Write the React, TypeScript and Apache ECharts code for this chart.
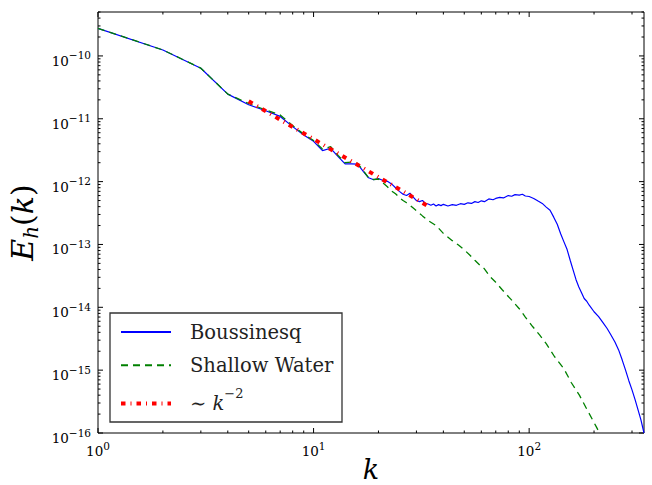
import React, { useEffect, useRef } from 'react';
import * as echarts from 'echarts';

// Axis ranges
const X_MIN = 1;
const X_MAX = 341;
const Y_MIN = 1e-16;
const Y_MAX = 5e-10;

// Boussinesq spectrum
const kBouss = [1, 2, 3, 4, 5, 6, 7, 8, 9, 10, 11, 12, 13, 14, 15, 16, 17, 18, 19, 20,
  21, 22, 23, 24, 25, 26, 27, 28, 29, 30, 31, 32, 33, 34, 35, 36, 37, 38, 39, 40,
  42, 44, 46, 48, 50, 52, 54, 56, 58, 60, 62,
  65, 68, 70, 73, 76, 80, 83, 86, 90, 93, 96, 100,
  105, 110, 115, 120, 125, 130, 135, 140, 145, 150, 155, 160, 165, 170, 175, 180, 185, 190,
  200, 210, 220, 230, 240, 250, 260, 270, 280, 290, 300, 310, 320, 330, 341];
const eBouss = [2.75e-10, 1.245e-10, 6.38e-11, 2.47e-11, 1.67e-11, 1.34e-11, 1.09e-11, 7.5e-12, 5.5e-12, 4.37e-12,
  3.11e-12, 3.39e-12, 2.5e-12, 1.91e-12, 1.92e-12, 1.9e-12, 1.46e-12, 1.15e-12, 1.07e-12, 1.12e-12,
  1.04e-12, 1.01e-12, 9.2e-13, 8.0e-13, 7.0e-13, 6.3e-13, 6.0e-13, 6.55e-13, 5.66e-13, 5.0e-13,
  4.8e-13, 5.0e-13, 4.5e-13, 4.4e-13, 4.2e-13, 4.4e-13, 4.1e-13, 4.3e-13, 4.15e-13, 4.35e-13,
  4.1e-13, 4.3e-13, 4.2e-13, 4.45e-13, 4.35e-13, 4.6e-13, 4.5e-13, 4.8e-13, 4.65e-13, 4.95e-13, 4.8e-13,
  5.3e-13, 5.15e-13, 5.4e-13, 5.6e-13, 5.5e-13, 6.0e-13, 5.85e-13, 6.2e-13, 6.1e-13, 6.3e-13, 5.9e-13, 5.8e-13,
  5.4e-13, 4.9e-13, 4.5e-13, 3.93e-13, 3.5e-13, 2.72e-13, 2.1e-13, 1.48e-13, 1.1e-13, 8.3e-14, 5.6e-14, 3.9e-14,
  2.75e-14, 2.11e-14, 1.7e-14, 1.38e-14, 1.25e-14, 1.08e-14,
  8.5e-15, 7.1e-15, 5.7e-15, 4.6e-15, 3.6e-15, 2.8e-15, 2.1e-15, 1.46e-15, 1.0e-15, 6.8e-16, 4.86e-16, 3.4e-16,
  2.34e-16, 1.62e-16, 1.0e-16];

// Shallow water spectrum
const kShallow = [1, 2, 3, 4, 5, 6, 7, 8, 9, 10, 11, 12, 13, 14, 15, 16, 17, 18, 19, 20,
  21, 22, 23, 24, 25, 26, 27, 28, 29, 30,
  32, 34, 37, 40, 44, 47, 50, 53, 56, 59, 62, 66, 70, 75, 83, 90, 96, 104, 112, 120, 131, 145, 157, 171, 189, 205, 212, 218];
const eShallow = [2.75e-10, 1.245e-10, 6.38e-11, 2.47e-11, 1.75e-11, 1.38e-11, 1.15e-11, 7.8e-12, 5.7e-12, 4.5e-12,
  3.3e-12, 3.6e-12, 2.6e-12, 2.0e-12, 2.05e-12, 1.95e-12, 1.5e-12, 1.15e-12, 1.08e-12, 1.1e-12,
  9.5e-13, 8.3e-13, 7.1e-13, 6.4e-13, 5.6e-13, 5.0e-13, 4.6e-13, 4.2e-13, 3.8e-13, 3.45e-13,
  2.85e-13, 2.4e-13, 2.0e-13, 1.5e-13, 1.15e-13, 9.8e-14, 8.2e-14, 6.8e-14, 5.6e-14, 4.7e-14, 4.1e-14, 3.05e-14,
  2.5e-14, 1.9e-14, 1.3e-14, 9.5e-15, 7.0e-15, 4.9e-15, 3.6e-15, 2.65e-15, 1.65e-15, 1.05e-15, 6.3e-16, 4.0e-16,
  2.1e-16, 1.25e-16, 1.0e-16, 8.3e-17];

// ~k^-2 reference segment
const kRef = [5, 33.5];
const eRef = [1.9e-11, 4.2e-13];

// Tick values
const xMajorTicks = [1, 10, 100];
const xMinorTicks = [2, 3, 4, 5, 6, 7, 8, 9, 20, 30, 40, 50, 60, 70, 80, 90, 200, 300];
const yDecadeExponents = [-16, -15, -14, -13, -12, -11, -10];
const minorMultipliers = [2, 3, 4, 5, 6, 7, 8, 9];

const SERIF = '"DejaVu Serif", serif';
const RED_DASH = [4.5, 5, 1, 5];

const supLabel = (v: number) => {
  const lg = Math.log10(v);
  const e = Math.round(lg);
  if (Math.abs(lg - e) > 1e-6) return '';
  const s = (e < 0 ? '\u2212' : '') + Math.abs(e);
  return `{b|10}{s|${s}}`;
};

export default function App() {
  const ref = useRef<HTMLDivElement>(null);
  useEffect(() => {
    if (!ref.current) return;
    const chart = echarts.init(ref.current, undefined, { renderer: 'svg' });

    const yMajorTicks = yDecadeExponents.map((e) => Math.pow(10, e));
    const yMinorTicks: number[] = [];
    yDecadeExponents.forEach((e) => {
      minorMultipliers.forEach((m) => {
        const v = m * Math.pow(10, e);
        if (v <= Y_MAX) yMinorTicks.push(v);
      });
    });

    const xTickData = [
      ...xMajorTicks.map((v) => [v, Y_MIN, 1]),
      ...xMinorTicks.map((v) => [v, Y_MIN, 0]),
    ];
    const yTickData = [
      ...yMajorTicks.map((v) => [X_MIN, v, 1]),
      ...yMinorTicks.map((v) => [X_MIN, v, 0]),
    ];
    const tickStyle = { stroke: '#000', lineWidth: 1 };

    const labelRich = {
      b: { fontSize: 13.5, fontFamily: SERIF, color: '#000', lineHeight: 22, verticalAlign: 'middle' },
      s: { fontSize: 10.5, fontFamily: SERIF, color: '#000', lineHeight: 8, verticalAlign: 'top' },
    };

    chart.setOption({
      animation: false,
      backgroundColor: '#fff',
      textStyle: { fontFamily: SERIF },
      grid: {
        left: 98, right: 8, top: 12, bottom: 52,
        show: true, borderColor: '#000', borderWidth: 1,
        containLabel: false, outerBoundsMode: 'none',
      },
      legend: {
        left: 110, top: 313, orient: 'vertical',
        data: [
          { name: 'Boussinesq' },
          { name: 'Shallow Water' },
          { name: 'ref', lineStyle: { width: 4, type: RED_DASH, cap: 'butt', color: '#ff0000' } },
        ],
        selectedMode: false,
        itemWidth: 50, itemHeight: 14, itemGap: 9.3,
        padding: [7, 8, 1.4, 9],
        itemStyle: { opacity: 0, borderWidth: 0 },
        backgroundColor: '#fff', borderColor: '#333', borderWidth: 1.3, borderRadius: 0,
        formatter: (name: string) => (name === 'ref' ? '{n|\u223C }{i|k}{s|\u22122}' : name),
        textStyle: {
          fontFamily: SERIF, fontSize: 19.5, color: '#222', lineHeight: 24,
          padding: [0, 0, 0, 14], width: 144,
          rich: {
            n: { fontFamily: SERIF, fontSize: 19.5, color: '#222', lineHeight: 34, verticalAlign: 'middle' },
            i: { fontFamily: SERIF, fontSize: 19.5, fontStyle: 'italic', color: '#222', lineHeight: 34, verticalAlign: 'middle' },
            s: { fontFamily: SERIF, fontSize: 13, color: '#222', lineHeight: 4, verticalAlign: 'top' },
          },
        },
      },
      xAxis: {
        type: 'log', logBase: 10, min: X_MIN, max: X_MAX, interval: 1,
        splitLine: { show: false }, axisLine: { show: false }, axisTick: { show: false },
        minorTick: { show: false },
        axisLabel: { margin: 7, showMinLabel: true, formatter: supLabel, rich: labelRich },
        name: 'k', nameLocation: 'middle', nameGap: 24, nameMoveOverlap: false,
        nameTextStyle: { fontFamily: SERIF, fontStyle: 'italic', fontSize: 27, color: '#000', lineHeight: 24 },
      },
      yAxis: {
        type: 'log', logBase: 10, min: Y_MIN, max: Y_MAX, interval: 1, splitNumber: 7,
        splitLine: { show: false }, axisLine: { show: false }, axisTick: { show: false },
        minorTick: { show: false },
        axisLabel: { margin: 7, showMinLabel: true, formatter: supLabel, rich: labelRich, padding: [10, 0, 0, 0] },
        name: '{e|E}{h|h}{p|(}{i|k}{p|)}', nameLocation: 'middle', nameGap: 51,
        nameTextStyle: {
          rich: {
            e: { fontFamily: SERIF, fontStyle: 'italic', fontSize: 30, color: '#000', lineHeight: 36, verticalAlign: 'middle' },
            h: { fontFamily: SERIF, fontStyle: 'italic', fontSize: 20, color: '#000', lineHeight: 22, verticalAlign: 'bottom' },
            p: { fontFamily: SERIF, fontSize: 30, color: '#000', lineHeight: 36, verticalAlign: 'middle' },
            i: { fontFamily: SERIF, fontStyle: 'italic', fontSize: 30, color: '#000', lineHeight: 36, verticalAlign: 'middle' },
          },
        },
      },
      series: [
        {
          name: 'Boussinesq', type: 'line', symbol: 'none', clip: true,
          data: kBouss.map((k, i) => [k, eBouss[i]]),
          lineStyle: { color: '#0000ff', width: 1.2 }, itemStyle: { color: '#0000ff' },
        },
        {
          name: 'Shallow Water', type: 'line', symbol: 'none', clip: true,
          data: kShallow.map((k, i) => [k, eShallow[i]]),
          lineStyle: { color: '#008000', width: 1.3, type: [7, 5] }, itemStyle: { color: '#008000' },
        },
        {
          name: 'ref', type: 'line', symbol: 'none', clip: true,
          data: kRef.map((k, i) => [k, eRef[i]]),
          lineStyle: { color: '#ff0000', width: 4, type: RED_DASH, cap: 'butt' },
          itemStyle: { color: '#ff0000' },
        },
        {
          name: 'xticks', type: 'custom', silent: true, data: xTickData,
          renderItem: (params: any, api: any) => {
            const v = api.value(0);
            const len = api.value(2) === 1 ? 5 : 2.5;
            const b = api.coord([v, Y_MIN]);
            const t = api.coord([v, Y_MAX]);
            return {
              type: 'group',
              children: [
                { type: 'line', shape: { x1: b[0], y1: b[1], x2: b[0], y2: b[1] - len }, style: tickStyle },
                { type: 'line', shape: { x1: t[0], y1: t[1], x2: t[0], y2: t[1] + len }, style: tickStyle },
              ],
            };
          },
        },
        {
          name: 'yticks', type: 'custom', silent: true, data: yTickData,
          renderItem: (params: any, api: any) => {
            const v = api.value(1);
            const len = api.value(2) === 1 ? 5 : 2.5;
            const l = api.coord([X_MIN, v]);
            const r = api.coord([X_MAX, v]);
            return {
              type: 'group',
              children: [
                { type: 'line', shape: { x1: l[0], y1: l[1], x2: l[0] + len, y2: l[1] }, style: tickStyle },
                { type: 'line', shape: { x1: r[0], y1: r[1], x2: r[0] - len, y2: r[1] }, style: tickStyle },
              ],
            };
          },
        },
      ],
    });
    return () => chart.dispose();
  }, []);
  return (
    <div
      ref={ref}
      style={{ position: 'absolute', left: 0, top: 0, width: 652, height: 485, background: '#fff' }}
    />
  );
}
